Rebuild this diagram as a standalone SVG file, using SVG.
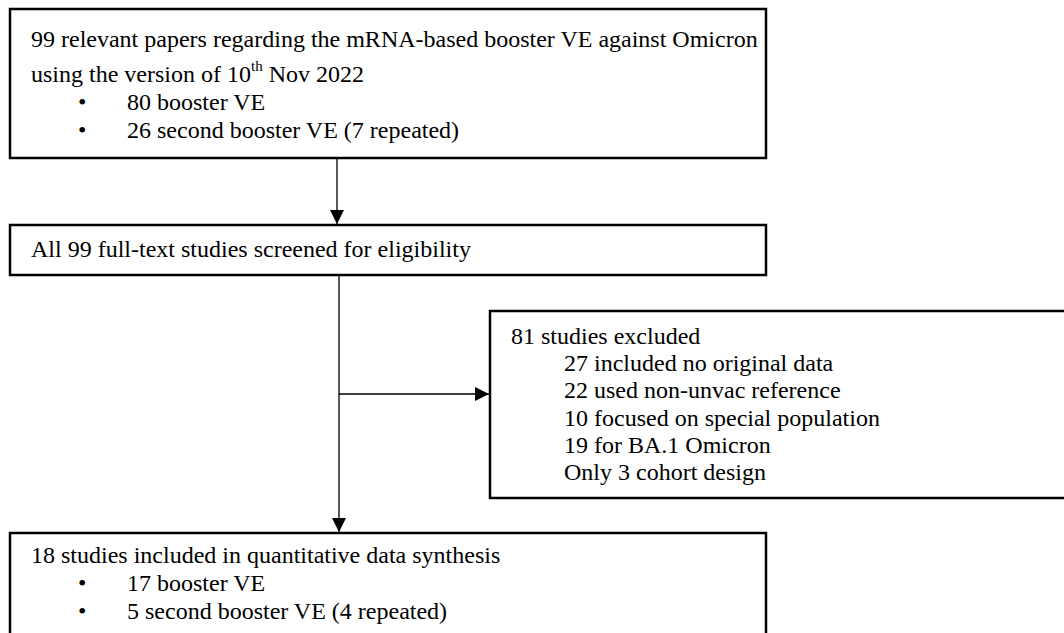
<svg xmlns="http://www.w3.org/2000/svg" width="1064" height="633" viewBox="0 0 1064 633">
<defs>
<marker id="ah" markerWidth="15" markerHeight="15" refX="14" refY="7" orient="auto" markerUnits="userSpaceOnUse">
<path d="M0,0 L14,7 L0,14 Z" fill="#000"/>
</marker>
<style>
.box{fill:#fff;stroke:#000;stroke-width:2.5}
.t{font-family:"Liberation Serif","Times New Roman",serif;font-size:24px;fill:#000}
.c{stroke:#000;stroke-width:1.3;fill:none}
</style>
</defs>
<rect width="1064" height="633" fill="#fff"/>
<g id="n1">
<rect class="box" x="10" y="9" width="756" height="149"/>
<text class="t" x="31" y="47">99 relevant papers regarding the mRNA-based booster VE against Omicron</text>
<text class="t" x="31" y="82">using the version of 10<tspan font-size="15" dy="-11">th</tspan><tspan dy="11"> Nov 2022</tspan></text>
<text class="t" x="78" y="110">•</text><text class="t" x="127" y="110">80 booster VE</text>
<text class="t" x="78" y="138">•</text><text class="t" x="127" y="138">26 second booster VE (7 repeated)</text>
</g>
<g id="n2">
<rect class="box" x="10" y="225" width="756" height="50"/>
<text class="t" x="31" y="257">All 99 full-text studies screened for eligibility</text>
</g>
<g id="n3">
<rect class="box" x="490" y="311" width="600" height="187"/>
<text class="t" x="511" y="344">81 studies excluded</text>
<text class="t" x="564" y="371.2">27 included no original data</text>
<text class="t" x="564" y="398.4">22 used non-unvac reference</text>
<text class="t" x="564" y="425.6">10 focused on special population</text>
<text class="t" x="564" y="452.8">19 for BA.1 Omicron</text>
<text class="t" x="564" y="480">Only 3 cohort design</text>
</g>
<g id="n4">
<rect class="box" x="10" y="533" width="756" height="120"/>
<text class="t" x="31" y="563">18 studies included in quantitative data synthesis</text>
<text class="t" x="78" y="591">•</text><text class="t" x="127" y="591">17 booster VE</text>
<text class="t" x="78" y="619">•</text><text class="t" x="127" y="619">5 second booster VE (4 repeated)</text>
</g>
<g id="connectors">
<line class="c" x1="337" y1="159" x2="337" y2="224" marker-end="url(#ah)"/>
<line class="c" x1="339" y1="276" x2="339" y2="532" marker-end="url(#ah)"/>
<line class="c" x1="339" y1="394" x2="489" y2="394" marker-end="url(#ah)"/>
</g>
</svg>
